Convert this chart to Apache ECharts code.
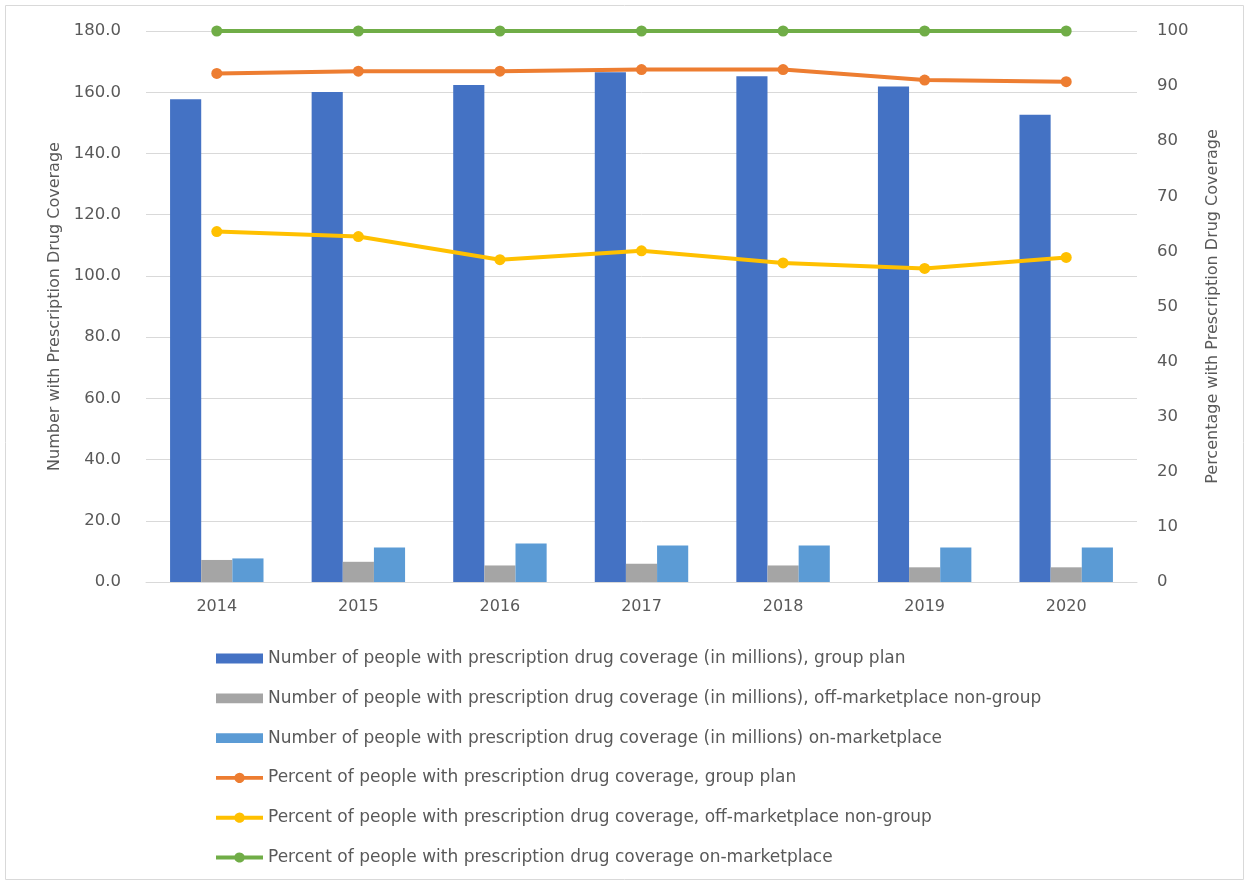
<!DOCTYPE html>
<html>
<head>
<meta charset="utf-8">
<script src="https://cdn.jsdelivr.net/npm/echarts@6/dist/echarts.min.js"></script>
<style>
  html, body { margin: 0; padding: 0; background: #fff; }
  #chart { width: 1250px; height: 884px; }
</style>
</head>
<body>
<div id="chart"></div>
<script>
const years = ['2014', '2015', '2016', '2017', '2018', '2019', '2020'];

// number of people (millions), left axis
const groupPlanCount = [157.7, 160.1, 162.4, 166.5, 165.2, 161.9, 152.6];
const offMarketCount = [7.2, 6.6, 5.4, 6.0, 5.4, 4.8, 4.8];
const onMarketCount = [7.7, 11.3, 12.6, 11.9, 11.9, 11.3, 11.3];

// percent of people, right axis
const groupPlanPct = [92.3, 92.7, 92.7, 93.0, 93.0, 91.1, 90.8];
const offMarketPct = [63.6, 62.7, 58.5, 60.1, 57.9, 56.9, 58.9];
const onMarketPct = [100, 100, 100, 100, 100, 100, 100];

const names = [
  'Number of people with prescription drug coverage (in millions), group plan',
  'Number of people with prescription drug coverage (in millions), off-marketplace non-group',
  'Number of people with prescription drug coverage (in millions) on-marketplace',
  'Percent of people with prescription drug coverage, group plan',
  'Percent of people with prescription drug coverage, off-marketplace non-group',
  'Percent of people with prescription drug coverage on-marketplace'
];

const textColor = '#595959';
const fontFamily = 'DejaVu Sans, sans-serif';

// legend icons: plain bar, and line with a dot in the middle
const barIcon = 'path://M0,0 L48,0 L48,10 L0,10 Z';
const lineIcon = 'path://M0,3.5 L19,3.5 A5.5,5.5 0 0,1 29,3.5 L48,3.5 L48,7.5 L29,7.5 A5.5,5.5 0 0,1 19,7.5 L0,7.5 Z';

const chart = echarts.init(document.getElementById('chart'));

const lineSeries = (name, data, color) => ({
  type: 'line',
  name: name,
  yAxisIndex: 1,
  data: data,
  symbol: 'circle',
  symbolSize: 11,
  z: 5,
  itemStyle: { color: color },
  lineStyle: { color: color, width: 4 }
});

const option = {
  animation: false,
  textStyle: { fontFamily: fontFamily },
  graphic: [{
    type: 'rect',
    shape: { x: 5.5, y: 5.5, width: 1238, height: 874 },
    style: { fill: 'none', stroke: '#d9d9d9', lineWidth: 1 }
  }],
  grid: {
    left: 146,
    right: 113,
    top: 31,
    bottom: 302
  },
  legend: {
    orient: 'vertical',
    left: 211,
    top: 645,
    height: 240,
    itemWidth: 47,
    itemHeight: 11,
    itemGap: 22.8,
    textStyle: { color: textColor, fontSize: 17, fontFamily: fontFamily },
    data: names.map((n, i) => ({ name: n, icon: i < 3 ? barIcon : lineIcon }))
  },
  xAxis: {
    type: 'category',
    data: years,
    axisTick: { show: false },
    axisLine: { lineStyle: { color: '#d9d9d9' } },
    axisLabel: { color: textColor, fontSize: 16, margin: 17 }
  },
  yAxis: [
    {
      type: 'value',
      min: 0,
      max: 180,
      interval: 20,
      name: 'Number with Prescription Drug Coverage',
      nameLocation: 'middle',
      nameGap: 80,
      nameTextStyle: { color: textColor, fontSize: 16 },
      axisLine: { show: false },
      axisTick: { show: false },
      splitLine: { lineStyle: { color: '#d9d9d9' } },
      axisLabel: {
        color: textColor,
        fontSize: 16.5,
        margin: 25,
        formatter: v => v.toFixed(1)
      }
    },
    {
      type: 'value',
      min: 0,
      max: 100,
      interval: 10,
      name: 'Percentage with Prescription Drug Coverage',
      nameLocation: 'middle',
      nameGap: 68,
      nameTextStyle: { color: textColor, fontSize: 16 },
      axisLine: { show: false },
      axisTick: { show: false },
      splitLine: { show: false },
      axisLabel: { color: textColor, fontSize: 16.5, margin: 20 }
    }
  ],
  series: [
    { type: 'bar', name: names[0], data: groupPlanCount, barGap: '0%', barCategoryGap: '34%', itemStyle: { color: '#4472C4' } },
    { type: 'bar', name: names[1], data: offMarketCount, itemStyle: { color: '#A5A5A5' } },
    { type: 'bar', name: names[2], data: onMarketCount, itemStyle: { color: '#5B9BD5' } },
    lineSeries(names[3], groupPlanPct, '#ED7D31'),
    lineSeries(names[4], offMarketPct, '#FFC000'),
    lineSeries(names[5], onMarketPct, '#70AD47')
  ]
};

chart.setOption(option);
</script>
</body>
</html>
